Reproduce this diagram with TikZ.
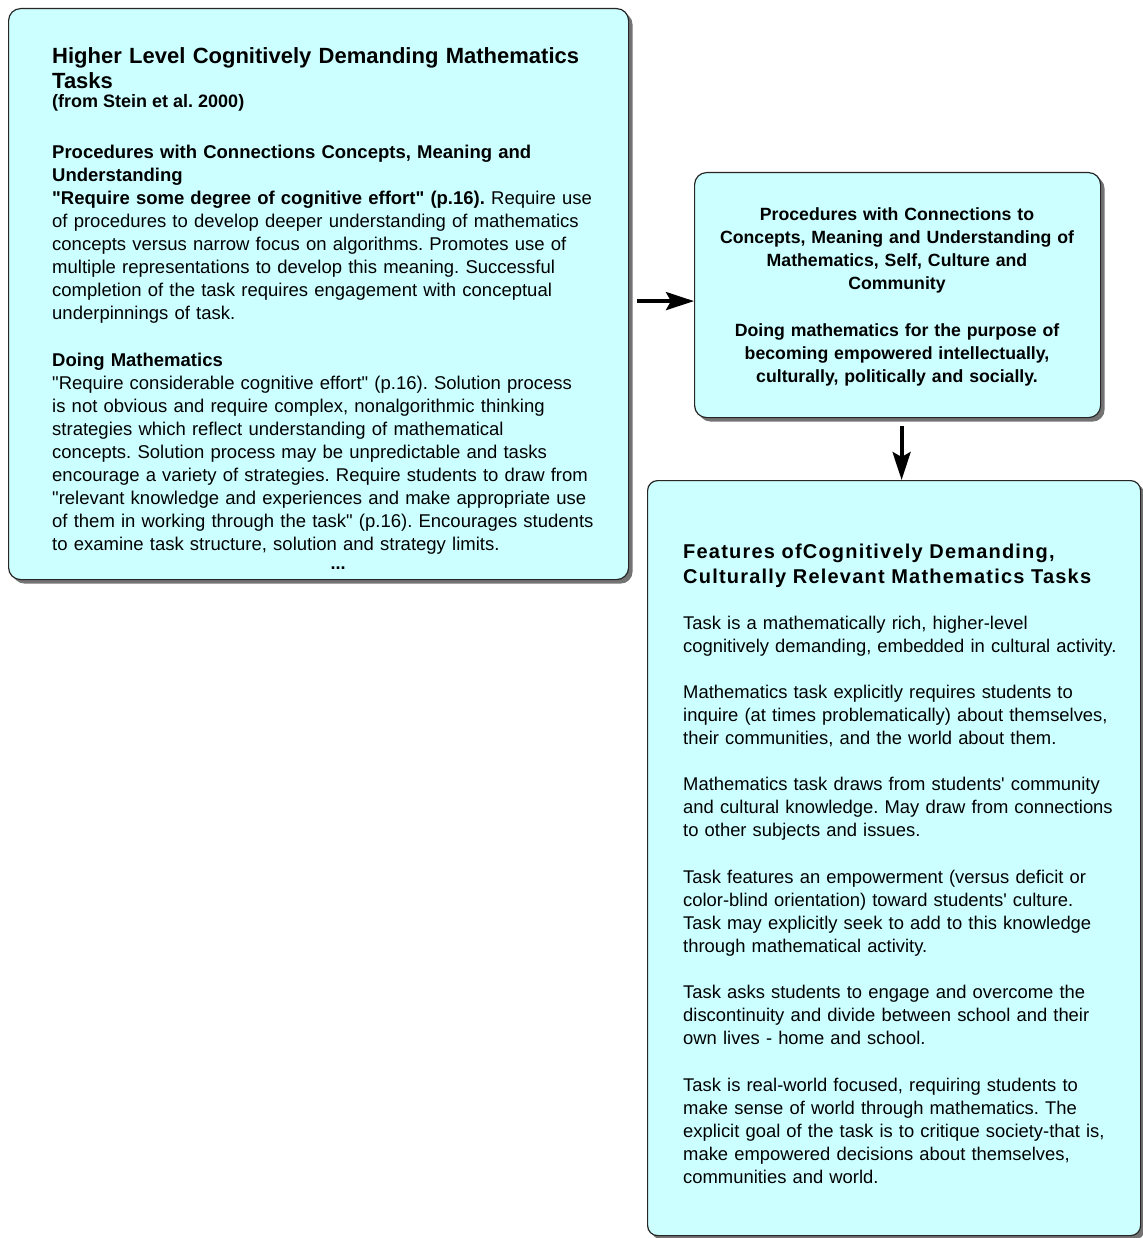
\documentclass[tikz,border=0pt]{standalone}
\usepackage{fontspec}
\setmainfont{Liberation Sans}
\newfontfamily\headfont[LetterSpace=6]{Liberation Sans}
\newfontfamily\plainfont{Liberation Sans}
\usetikzlibrary{arrows.meta,shadows}
\definecolor{boxcyan}{RGB}{204,255,255}
\newcommand{\dq}{{\plainfont"}}
\newcommand{\sq}{{\plainfont'}}
\frenchspacing

\begin{document}
\begin{tikzpicture}[x=1pt, y=-1pt, line join=round,
    box/.style={draw=black!85, line width=1.2pt, fill=boxcyan, rounded corners=12pt,
      anchor=north west, inner sep=0pt,
      drop shadow={shadow xshift=4pt, shadow yshift=-4pt, fill=black!55, opacity=1}},
    txt/.style={inner sep=0pt, align=left, anchor=base west},
    body/.style={font=\fontsize{18.5}{23.1}\selectfont},
    conn/.style={line width=3.8pt, -{Stealth[length=28pt, width=18pt, inset=5pt]}}]
  \def\gap{23.1pt} % blank line between paragraphs
  \useasboundingbox (0,0) rectangle (1142,1238);
  % boxes
  \node[box, minimum width=620pt, minimum height=571pt] (stein) at (8,8) {};
  \node[box, minimum width=406pt, minimum height=245pt] (proc) at (694,172) {};
  \node[box, minimum width=493pt, minimum height=755pt, rounded corners=10pt] (feat) at (647,480) {};
  % left box
  \node[txt, text width=570pt, font=\fontsize{22}{25}\selectfont\bfseries] (steintitle) at (52,64)
    {Higher Level Cognitively Demanding Mathematics\\Tasks};
  \node[txt, font=\fontsize{18}{23}\selectfont\bfseries] (steinsrc) at (52,108) {(from Stein et al. 2000)};
  \node[txt, text width=570pt, font=\fontsize{18.5}{22.9}\selectfont] (steinproc) at (52,159)
    {\textbf{Procedures with Connections Concepts, Meaning and}\\
     \textbf{Understanding}\\
     \textbf{\dq Require some degree of cognitive effort\dq{} (p.16).} Require use\\
     of procedures to develop deeper understanding of mathematics\\
     concepts versus narrow focus on algorithms. Promotes use of\\
     multiple representations to develop this meaning. Successful\\
     completion of the task requires engagement with conceptual\\
     underpinnings of task.};
  \node[txt, text width=570pt, body] (steindoing) at (52,366)
    {\textbf{Doing Mathematics}\\
     \dq Require considerable cognitive effort\dq{} (p.16). Solution process\\
     is not obvious and require complex, nonalgorithmic thinking\\
     strategies which reflect understanding of mathematical\\
     concepts. Solution process may be unpredictable and tasks\\
     encourage a variety of strategies. Require students to draw from\\
     \dq relevant knowledge and experiences and make appropriate use\\
     of them in working through the task\dq{} (p.16). Encourages students\\
     to examine task structure, solution and strategy limits.};
  \node[txt, anchor=base, font=\fontsize{18}{23}\selectfont\bfseries] (steindots) at (338,569) {...};
  % middle box
  \node[inner sep=0pt, anchor=base, align=center, text width=400pt,
    font=\fontsize{17.7}{23}\selectfont\bfseries] (proctext) at (897,221)
    {Procedures with Connections to\\
     Concepts, Meaning and Understanding of\\
     Mathematics, Self, Culture and\\
     Community\\[\gap]
     Doing mathematics for the purpose of\\
     becoming empowered intellectually,\\
     culturally, politically and socially.};
  % right box
  \node[txt, text width=480pt, font=\fontsize{20}{25}\headfont\bfseries] (feattitle) at (683,558)
    {Features ofCognitively Demanding,\\Culturally Relevant Mathematics Tasks};
  \node[txt, text width=480pt, font=\fontsize{18.4}{23.1}\selectfont] (feattext) at (683,629)
    {Task is a mathematically rich, higher-level\\
     cognitively demanding, embedded in cultural activity.\\[\gap]
     Mathematics task explicitly requires students to\\
     inquire (at times problematically) about themselves,\\
     their communities, and the world about them.\\[\gap]
     Mathematics task draws from students\sq{} community\\
     and cultural knowledge. May draw from connections\\
     to other subjects and issues.\\[\gap]
     Task features an empowerment (versus deficit or\\
     color-blind orientation) toward students\sq{} culture.\\
     Task may explicitly seek to add to this knowledge\\
     through mathematical activity.\\[\gap]
     Task asks students to engage and overcome the\\
     discontinuity and divide between school and their\\
     own lives - home and school.\\[\gap]
     Task is real-world focused, requiring students to\\
     make sense of world through mathematics. The\\
     explicit goal of the task is to critique society-that is,\\
     make empowered decisions about themselves,\\
     communities and world.};
  % arrows
  \coordinate (a1) at ([xshift=8pt, yshift=-7pt]stein.east);
  \draw[conn] (a1) -- (a1 -| proc.west);
  \coordinate (a2) at ([xshift=4pt, yshift=-8pt]proc.south);
  \draw[conn] (a2) -- (a2 |- feat.north);
\end{tikzpicture}
\end{document}
